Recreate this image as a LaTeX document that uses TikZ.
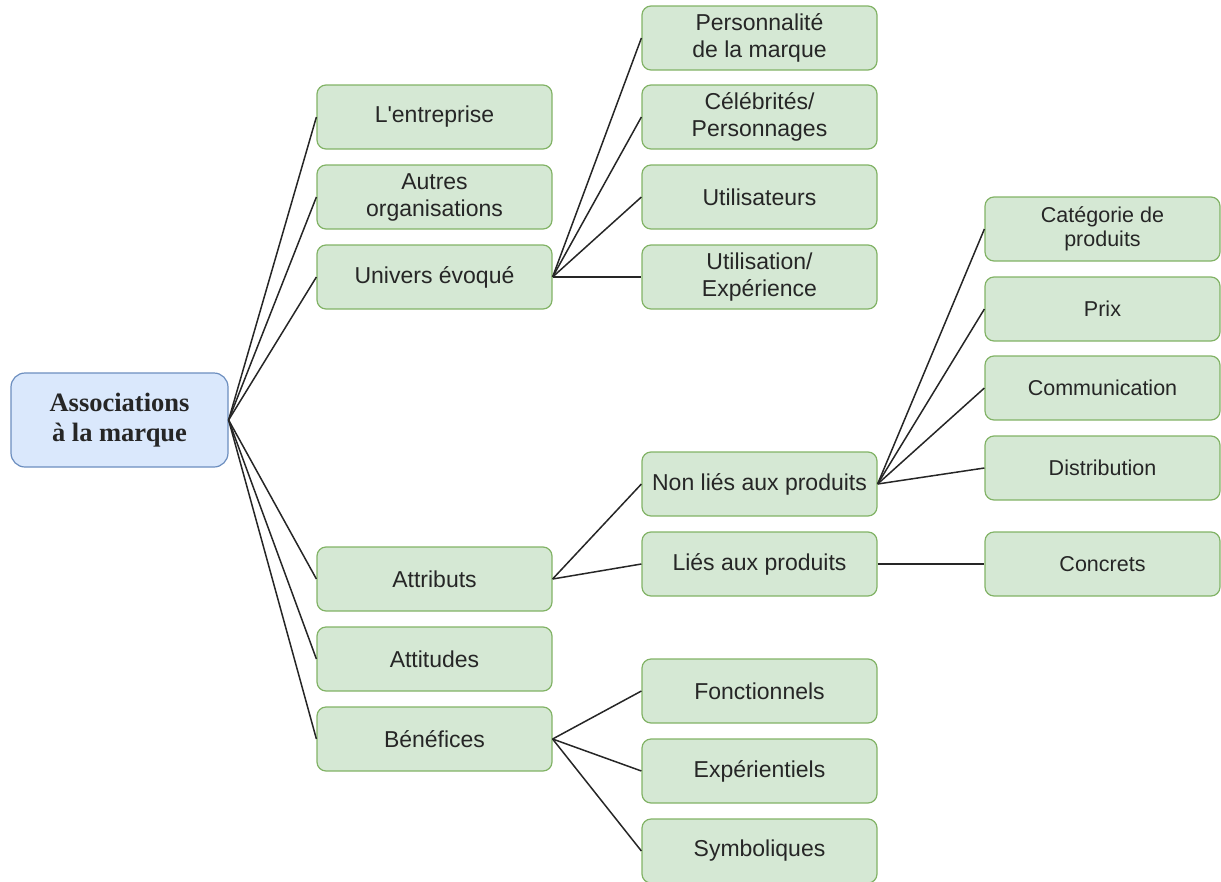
\documentclass[tikz,border=0pt]{standalone}
\usepackage{fontspec}
\setmainfont{Liberation Sans}
\newfontfamily\rootfont{Liberation Serif}
\usepackage{xcolor}
\usepackage{tikz}
\usetikzlibrary{positioning}

\definecolor{greenfill}{HTML}{D5E8D4}
\definecolor{greenline}{HTML}{82B366}
\definecolor{bluefill}{HTML}{DAE8FC}
\definecolor{blueline}{HTML}{6C8EBF}
\definecolor{textgray}{HTML}{262626}

\tikzset{
  box/.style={draw=greenline, fill=greenfill, line width=1.2pt, rounded corners=9pt,
    minimum width=235pt, minimum height=64pt, align=center, text=textgray,
    inner sep=2pt, font=\fontsize{23}{27}\selectfont},
  smallbox/.style={box, font=\fontsize{21.5}{24}\selectfont},
  rootbox/.style={draw=blueline, fill=bluefill, line width=1.2pt, rounded corners=14pt,
    minimum width=217pt, minimum height=94pt, align=center, text=textgray,
    font=\rootfont\bfseries\fontsize{26.5}{30}\selectfont},
  link/.style={black!85, line width=1.5pt}
}

\begin{document}
\begin{tikzpicture}[x=1pt,y=-1pt]
    \useasboundingbox (0,0) rectangle (1221,881);

    % root
    \node[rootbox] (assoc) at (119.5,420) {Associations\\à la marque};

    % first level
    \node[box] (entreprise) at (434.5,117) {L\textquotesingle entreprise};
    \node[box] (autres) at (434.5,197) {Autres\\organisations};
    \node[box] (univers) at (434.5,277) {Univers évoqué};
    \node[box] (attributs) at (434.5,579) {Attributs};
    \node[box] (attitudes) at (434.5,659) {Attitudes};
    \node[box] (benefices) at (434.5,739) {Bénéfices};

    % second level
    \node[box] (personnalite) at (759.5,38) {Personnalité\\de la marque};
    \node[box] (celebrites) at (759.5,117) {Célébrités/\\Personnages};
    \node[box] (utilisateurs) at (759.5,197) {Utilisateurs};
    \node[box] (utilisation) at (759.5,277) {Utilisation/\\Expérience};
    \node[box] (nonlies) at (759.5,484) {Non liés aux produits};
    \node[box] (lies) at (759.5,564) {Liés aux produits};
    \node[box] (fonctionnels) at (759.5,691) {Fonctionnels};
    \node[box] (experientiels) at (759.5,771) {Expérientiels};
    \node[box] (symboliques) at (759.5,851) {Symboliques};

    % third level
    \node[smallbox] (categorie) at (1102.5,229) {Catégorie de\\produits};
    \node[smallbox] (prix) at (1102.5,309) {Prix};
    \node[smallbox] (communication) at (1102.5,388) {Communication};
    \node[smallbox] (distribution) at (1102.5,468) {Distribution};
    \node[smallbox] (concrets) at (1102.5,564) {Concrets};

    % links
    \foreach \child in {entreprise,autres,univers,attributs,attitudes,benefices}
        \draw[link] (assoc.east) -- (\child.west);
    \foreach \child in {personnalite,celebrites,utilisateurs,utilisation}
        \draw[link] (univers.east) -- (\child.west);
    \foreach \child in {nonlies,lies}
        \draw[link] (attributs.east) -- (\child.west);
    \foreach \child in {fonctionnels,experientiels,symboliques}
        \draw[link] (benefices.east) -- (\child.west);
    \foreach \child in {categorie,prix,communication,distribution}
        \draw[link] (nonlies.east) -- (\child.west);
    \draw[link] (lies.east) -- (concrets.west);
\end{tikzpicture}
\end{document}
